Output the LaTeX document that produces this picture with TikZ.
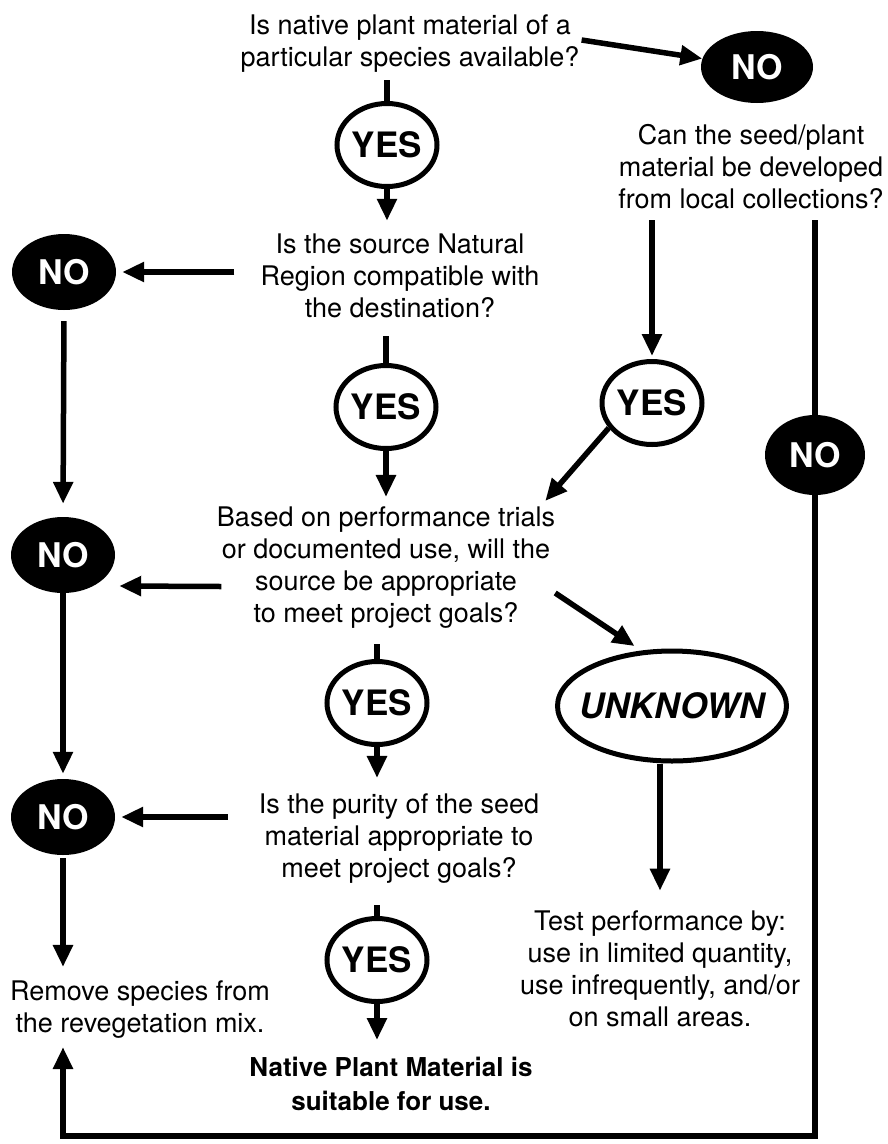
\documentclass[tikz,border=0pt]{standalone}
\usepackage{fontspec}
\setmainfont{TeX Gyre Heros}
\usetikzlibrary{shapes.geometric,arrows.meta}
\begin{document}
\begin{tikzpicture}[x=1pt,y=-1pt,
  ln/.style={line width=5.5pt},
  arr/.style={line width=5.5pt,-{Triangle[length=22pt,width=19pt]}},
  qtext/.style={align=center,inner sep=0pt,font=\fontsize{27}{32}\selectfont},
  yesnode/.style={ellipse,draw,line width=5pt,inner sep=0pt,minimum width=100pt,minimum height=83pt,font=\bfseries\fontsize{35}{40}\selectfont},
  nonode/.style={ellipse,fill=black,text=white,inner sep=0pt,minimum width=104pt,minimum height=76pt,font=\bfseries\fontsize{34}{40}\selectfont},
  unknode/.style={ellipse,draw,line width=5pt,inner xsep=-12pt,inner ysep=0pt,minimum width=229pt,minimum height=110pt,font=\bfseries\itshape\fontsize{35}{40}\selectfont},
  finaltext/.style={align=center,inner sep=0pt,font=\bfseries\fontsize{26}{34}\selectfont}
]
\useasboundingbox[fill=white] (0,0) rectangle (887,1144);

\node[qtext] (q1) at (410,44) {Is native plant material of a\\particular species available?};
\node[nonode,minimum width=112pt,minimum height=72pt] (no1) at (757,67) {NO};
\node[qtext] (q1b) at (751,167) {Can the seed/plant\\material be developed\\from local collections?};
\node[yesnode] (yes1) at (387,145) {YES};
\node[qtext] (q2) at (400,276) {Is the source Natural\\Region compatible with\\the destination?};
\node[nonode] (no2) at (64,272) {NO};
\node[yesnode] (yes2) at (386,407) {YES};
\node[yesnode] (yes3) at (652,403) {YES};
\node[nonode,minimum width=100pt,minimum height=80pt] (no4) at (815,455) {NO};
\node[qtext] (q3) at (386,568) {Based on performance trials\\or documented use, will the\\source be appropriate\\to meet project goals?};
\node[nonode] (no3) at (63,555) {NO};
\node[unknode] (unk) at (672,706) {UNKNOWN};
\node[yesnode] (yes4) at (377,703) {YES};
\node[qtext] (q4) at (399,839) {Is the purity of the seed\\material appropriate to\\meet project goals?};
\node[nonode] (no5) at (63,817) {NO};
\node[yesnode] (yes5) at (377,960) {YES};
\node[qtext] (test) at (660,969) {Test performance by:\\use in limited quantity,\\use infrequently, and/or\\on small areas.};
\node[qtext] (remove) at (140,1010) {Remove species from\\the revegetation mix.};
\node[finaltext] (native) at (391,1084) {Native Plant Material is\\suitable for use.};
\coordinate (bot) at (63,1136);

\draw[arr] ([shift={(2pt,4pt)}]q1.east) -- (no1);
\draw[ln,shorten <=7pt] (q1.south -| yes1) -- (yes1.north);
\draw[arr,shorten >=13pt] (yes1.south) -- (q2.north -| yes1);
\draw[arr,shorten <=26pt,shorten >=6pt] (q2.west |- no2) -- (no2.east);
\draw[arr,shorten <=11pt,shorten >=13pt] (no2.south) -- (no3.north);
\draw[ln,shorten <=18pt] (q2.south -| yes2) -- (yes2.north);
\draw[arr,shorten >=10pt] (yes2.south) -- (q3.north -| yes2);
\draw[arr,shorten <=11pt,shorten >=3pt] (q1b.south -| yes3) -- (yes3.north);
\draw[arr] (yes3.210) -- ([shift={(-10pt,6pt)}]q3.north east);
\draw[arr] ([shift={(4.5pt,-18.5pt)}]q3.west) -- ([shift={(4pt,-31pt)}]no3.east);
\draw[arr,shorten >=8pt] ([yshift=-25pt]q3.east) -- (unk.119);
\draw[ln,shorten <=15pt] (q3.south -| yes4) -- (yes4.north);
\draw[arr,shorten >=16pt] (yes4.south) -- (q4.north -| yes4);
\draw[arr,shorten <=31pt,shorten >=6pt] (q4.west |- no5) -- (no5.east);
\draw[arr,shorten >=5pt] (no3.south) -- (no5.north);
\draw[arr,shorten <=3pt,shorten >=14pt] (no5.south) -- (remove.north -| no5);
\draw[ln,shorten <=21pt] (q4.south -| yes5) -- (yes5.north);
\draw[arr,shorten >=17pt] (yes5.south) -- (native.north -| yes5);
\draw[arr,shorten >=20pt] (unk.south -| test) -- (test.north);
\draw[ln,shorten <=11pt] (q1b.south -| no4) -- (no4);
\draw[arr,line join=miter,shorten >=8pt] (no4) -- (no4 |- bot) -- (bot) -- (remove.south -| bot);
\end{tikzpicture}
\end{document}
